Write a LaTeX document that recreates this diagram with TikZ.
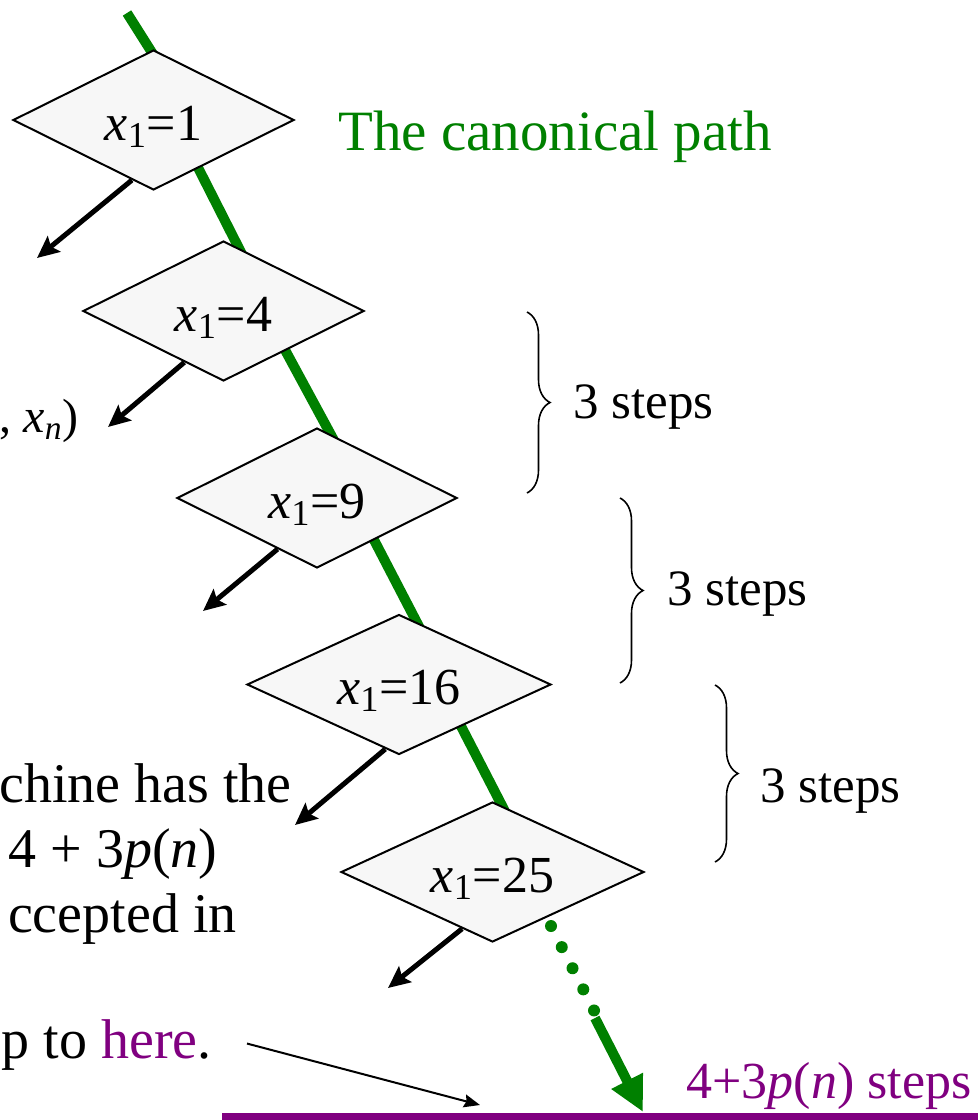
\documentclass[tikz,border=0pt]{standalone}
\usepackage{fontspec}
\setmainfont{Liberation Serif}
\usetikzlibrary{shapes.geometric,arrows.meta,decorations.pathreplacing,calc,backgrounds}
\definecolor{pathgreen}{RGB}{0,128,0}
\definecolor{purp}{RGB}{128,0,128}
\definecolor{dfill}{RGB}{247,247,247}
\begin{document}
\begin{tikzpicture}[x=0.5pt,y=-0.5pt,
  statebox/.style={diamond, draw=black, line width=1pt, fill=dfill, aspect=2,
    inner sep=0pt, minimum height=70pt, text height=20pt, text depth=0pt,
    font=\fontsize{26}{30}\selectfont},
  greenpath/.style={draw=pathgreen, line width=5pt},
  branch/.style={draw=black, line width=2.5pt, -{Stealth[length=11pt,width=10pt,inset=2pt]}},
  bracestyle/.style={draw=black, decorate, decoration={brace, amplitude=11.5pt}, line width=0.8pt},
  stepslabel/.style={anchor=base west, inner sep=0pt, font=\fontsize{25.5}{30}\selectfont},
  lefttext/.style={anchor=base east, inner sep=0pt, font=\fontsize{28}{33}\selectfont}]
\useasboundingbox (0,0) rectangle (978,1120);

% diamonds
\node[statebox, minimum width=140.5pt] (d1) at (153.5,120) {\textit{x}\textsubscript{1}=1};
\node[statebox, minimum width=140.5pt] (d2) at (223.5,311) {\textit{x}\textsubscript{1}=4};
\node[statebox, minimum width=140pt] (d3) at (317,498) {\textit{x}\textsubscript{1}=9};
\node[statebox, minimum width=152pt] (d4) at (399,684.5) {\textit{x}\textsubscript{1}=16};
\node[statebox, minimum width=151.5pt] (d5) at (492.5,872) {\textit{x}\textsubscript{1}=25};

% texts
\node[anchor=base west, inner sep=0pt, text=pathgreen, font=\fontsize{28.5}{34}\selectfont] (canon) at (338,150) {The canonical path};
\node[stepslabel] (s1) at (573,418) {3 steps};
\node[stepslabel] (s2) at (667,605) {3 steps};
\node[stepslabel] (s3) at (760,802) {3 steps};
\node[anchor=base east, inner sep=0pt, font=\fontsize{24}{28}\selectfont] (xn) at (79,432) {, \textit{x}\textsubscript{\textit{n}})};
\node[lefttext] (l1) at (292,802) {chine has the};
\node[lefttext] (l2) at (218,867) {4 + 3\textit{p}(\textit{n})};
\node[lefttext] (l3) at (237,932) {ccepted in};
\node[lefttext] (here) at (212,1058) {p to \textcolor{purp}{here}.};
\node[anchor=base east, inner sep=0pt, text=purp, font=\fontsize{26}{31}\selectfont] (total) at (972,1098) {4+3\textit{p}(\textit{n}) steps};

% braces
\coordinate (b1a) at (527,312); \coordinate (b1b) at (527,493);
\coordinate (b2a) at (620,498); \coordinate (b2b) at (620,683);
\coordinate (b3a) at (715,685); \coordinate (b3b) at (715,862);
\draw[bracestyle] (b1a) -- (b1b);
\draw[bracestyle] (b2a) -- (b2b);
\draw[bracestyle] (b3a) -- (b3b);

% bottom line and pointer
\coordinate (baseL) at (222,1116.5);
\coordinate (baseR) at (978,1116.5);
\draw[purp, line width=3.5pt] (baseL) -- (baseR);
\coordinate (herehit) at (480,1105);
\draw[black, line width=1pt, -{Stealth[length=8pt,width=6.5pt,inset=1pt]}] ($(here.east)+(35,-1)$) -- (herehit);

\begin{pgfonlayer}{background}
  % canonical path
  \coordinate (top) at (127,13);
  \draw[greenpath] (top) -- ($(d1)+(9.5,-50)$);
  \draw[greenpath] ($(d1)+(30.5,20)$) -- ($(d2)+(25.5,-43)$);
  \draw[greenpath] ($(d2)+(47.5,13)$) -- ($(d3)+(22.5,-47.4)$);
  \draw[greenpath] ($(d3)+(42,13)$) -- ($(d4)+(27,-44.5)$);
  \draw[greenpath] ($(d4)+(48,14.5)$) -- ($(d5)+(19.5,-47)$);
  \draw[pathgreen, line width=6pt, line cap=round, dash pattern=on 0pt off 11.85pt]
    ($(d5)+(58.5,54)$) -- ($(d5)+(101.7,138.8)$);
  \coordinate (hit) at (643,1112);
  \draw[pathgreen, line width=5pt, -{Triangle[length=17.5pt,width=16.5pt]}] ($(d5)+(102.5,146)$) -- (hit);
  % branches
  \coordinate (t1) at (37,258);
  \coordinate (t2) at (108,427);
  \coordinate (t3) at (203,611);
  \coordinate (t4) at (295,825);
  \coordinate (t5) at (388,988);
  \draw[branch] ($(d1.south)!0.153!(d1.west)$) -- (t1);
  \draw[branch] ($(d2.south)!0.277!(d2.west)$) -- (t2);
  \draw[branch] ($(d3.south)!0.28!(d3.west)$) -- (t3);
  \draw[branch] ($(d4.south)!0.09!(d4.west)$) -- (t4);
  \draw[branch] ($(d5.south)!0.2!(d5.west)$) -- (t5);
\end{pgfonlayer}
\end{tikzpicture}
\end{document}
